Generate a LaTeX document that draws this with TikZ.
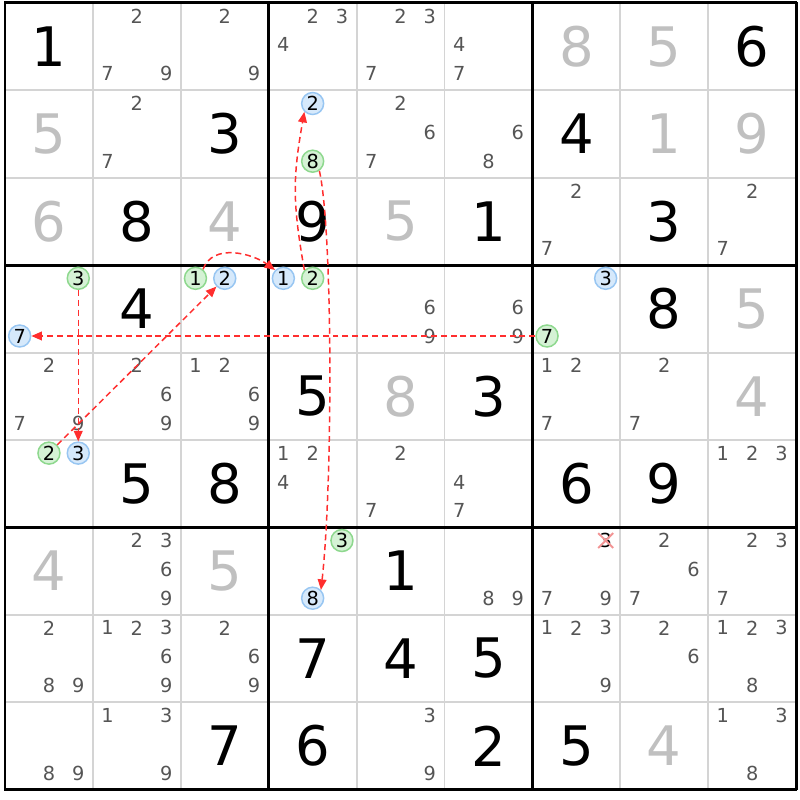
\documentclass[tikz,border=0pt]{standalone}
\usepackage{fontspec}
\setmainfont{DejaVu Sans}
\usetikzlibrary{arrows.meta}
\definecolor{candgray}{HTML}{555555}
\definecolor{solvedgray}{HTML}{C0C0C0}
\definecolor{gridgray}{HTML}{D4D4D4}
\definecolor{bluefill}{HTML}{D6E9FB}
\definecolor{bluering}{HTML}{98C6F2}
\definecolor{greenfill}{HTML}{D5F2D5}
\definecolor{greenring}{HTML}{8ED88E}
\definecolor{linkred}{HTML}{FF2E2E}
\definecolor{crossred}{HTML}{F29494}

\tikzset{
    cand/.style={font=\fontsize{11}{13}\selectfont, text=candgray, inner sep=0pt},
    bigdigit/.style={font=\fontsize{31}{36}\selectfont, inner sep=0pt},
    bcand/.style={circle, draw=bluering, fill=bluefill, line width=0.85pt, minimum size=0.44cm,
        inner sep=0pt, font=\fontsize{11}{13}\selectfont, text=black},
    gcand/.style={bcand, draw=greenring, fill=greenfill},
    link/.style={draw=linkred, line width=0.85pt, dash pattern=on 3.4pt off 2.2pt,
        -{Triangle[length=6pt, width=5pt]}},
    xmark/.style={draw=crossred, line width=1.1pt}
}

\begin{document}
\begin{tikzpicture}[x=1.758cm, y=-1.748cm]
        \useasboundingbox (-0.0569,-0.0343) rectangle (9.0444,9.1190);

        % Grid
        \foreach \i in {1,2,4,5,7,8} {
            \draw[gridgray, line width=1.1pt] (\i,0) -- (\i,9);
            \draw[gridgray, line width=1.1pt] (0,\i) -- (9,\i);
        }
        \foreach \i in {0,3,6,9} {
            \draw[black, line width=1.7pt] (\i,-0.0085) -- (\i,9.0085);
            \draw[black, line width=1.7pt] (-0.0085,\i) -- (9.0085,\i);
        }

        % Givens (black)
        \foreach \r/\c/\v in {1/1/1, 1/9/6, 2/3/3, 2/7/4, 3/2/8, 3/4/9, 3/6/1, 3/8/3,
                4/2/4, 4/8/8, 5/4/5, 5/6/3, 6/2/5, 6/3/8, 6/7/6, 6/8/9, 7/5/1,
                8/4/7, 8/5/4, 8/6/5, 9/3/7, 9/4/6, 9/6/2, 9/7/5} {
            \node[bigdigit] (v\r\c) at (\c-0.5, \r-0.5) {\v};
        }
        % Solved cells (gray)
        \foreach \r/\c/\v in {1/7/8, 1/8/5, 2/1/5, 2/8/1, 2/9/9, 3/1/6, 3/3/4, 3/5/5,
                4/9/5, 5/5/8, 5/9/4, 7/1/4, 7/3/5, 9/8/4} {
            \node[bigdigit, text=solvedgray] (v\r\c) at (\c-0.5, \r-0.5) {\v};
        }

        % Pencil marks
        \foreach \r/\c/\ds in {1/2/{2,7,9}, 1/3/{2,9}, 1/4/{2,3,4}, 1/5/{2,3,7}, 1/6/{4,7},
                2/2/{2,7}, 2/5/{2,6,7}, 2/6/{6,8}, 3/7/{2,7}, 3/9/{2,7},
                4/5/{6,9}, 4/6/{6,9}, 5/1/{2,7,9}, 5/2/{2,6,9}, 5/3/{1,2,6,9}, 5/7/{1,2,7}, 5/8/{2,7},
                6/4/{1,2,4}, 6/5/{2,7}, 6/6/{4,7}, 6/9/{1,2,3},
                7/2/{2,3,6,9}, 7/6/{8,9}, 7/7/{7,9}, 7/8/{2,6,7}, 7/9/{2,3,7},
                8/1/{2,8,9}, 8/2/{1,2,3,6,9}, 8/3/{2,6,9}, 8/7/{1,2,3,9}, 8/8/{2,6}, 8/9/{1,2,3,8},
                9/1/{8,9}, 9/2/{1,3,9}, 9/5/{3,9}, 9/9/{1,3,8}} {
            \foreach \d in \ds {
                \pgfmathtruncatemacro\kx{mod(\d-1,3)}
                \pgfmathtruncatemacro\ky{int((\d-1)/3)}
                \node[cand] (p\r\c\d) at ({\c-1+(2*\kx+1)/6}, {\r-1+0.15+0.33*\ky}) {\d};
            }
        }

        % Eliminated candidate
        \node[cand, text=black] (p773) at ({6+5/6}, 6.15) {3};
        \draw[xmark] (p773) ++(-0.085,-0.085) -- ++(0.17,0.17)
                     (p773) ++(0.085,-0.085) -- ++(-0.17,0.17);

        % Chain candidates (blue / green)
        \foreach \r/\c/\d in {2/4/2, 4/1/7, 4/3/2, 4/4/1, 4/7/3, 6/1/3, 7/4/8} {
            \pgfmathtruncatemacro\kx{mod(\d-1,3)}
            \pgfmathtruncatemacro\ky{int((\d-1)/3)}
            \node[bcand] (b\r\c\d) at ({\c-1+(2*\kx+1)/6}, {\r-1+0.15+0.33*\ky}) {\d};
        }
        \foreach \r/\c/\d in {2/4/8, 4/1/3, 4/3/1, 4/4/2, 4/7/7, 6/1/2, 7/4/3} {
            \pgfmathtruncatemacro\kx{mod(\d-1,3)}
            \pgfmathtruncatemacro\ky{int((\d-1)/3)}
            \node[gcand] (g\r\c\d) at ({\c-1+(2*\kx+1)/6}, {\r-1+0.15+0.33*\ky}) {\d};
        }

        % Links
        \draw[link] (g413) -- (b613);
        \draw[link] (g612) -- (b432);
        \draw[link] (g431.50) to[out=70, in=144] (b441.135);
        \draw[link] (g442.135) to[out=100, in=260, looseness=1.1] (b242.225);
        \draw[link] (g248.-55) .. controls (3.73,2.6) and (3.73,5.5) .. (b748.45);
        \draw[link] (g477) -- (b417);
    \end{tikzpicture}
\end{document}
